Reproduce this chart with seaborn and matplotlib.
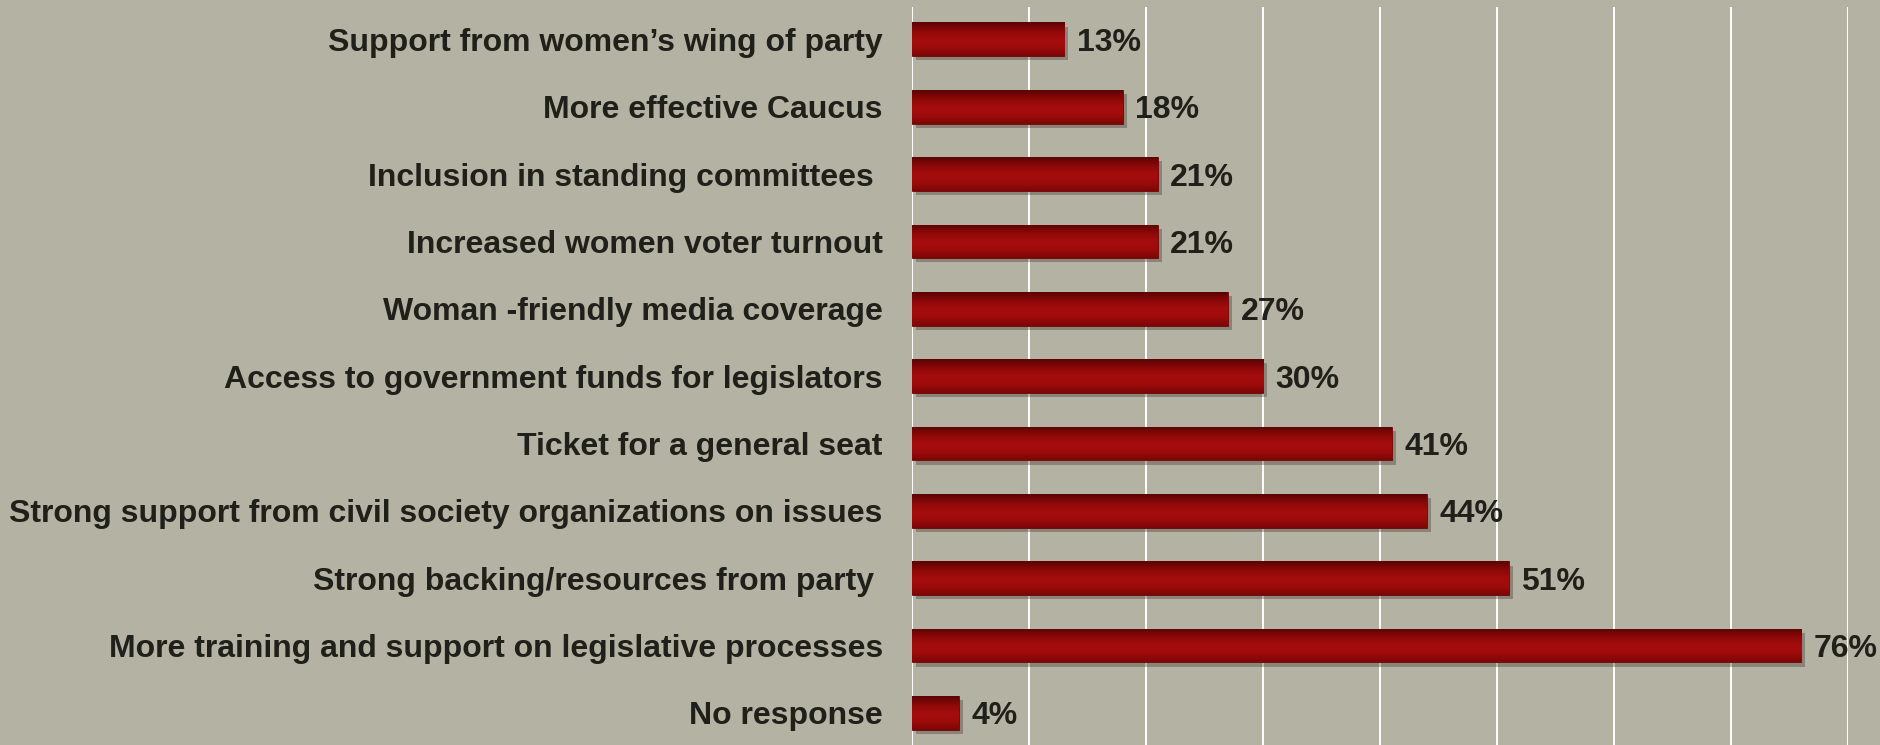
import matplotlib
matplotlib.use("Agg")
import matplotlib.pyplot as plt
import matplotlib.patheffects as pe
import seaborn as sns
import pandas as pd
import numpy as np
from matplotlib.colors import LinearSegmentedColormap

categories = [
    "Support from women\u2019s wing of party",
    "More effective Caucus",
    "Inclusion in standing committees ",
    "Increased women voter turnout",
    "Woman -friendly media coverage",
    "Access to government funds for legislators",
    "Ticket for a general seat",
    "Strong support from civil society organizations on issues",
    "Strong backing/resources from party ",
    "More training and support on legislative processes",
    "No response",
]
values = [13, 18, 21, 21, 27, 30, 41, 44, 51, 76, 4]
value_labels = [f"{v}%" for v in values]

df = pd.DataFrame({"category": categories, "value": values})

sns.set_theme(style="white")
FONT = "Liberation Sans"
plt.rcParams["font.family"] = FONT

BG = "#b4b2a3"
BAR = "#9c0a0a"
TXT = "#20201a"
FS = 23

fig = plt.figure(figsize=(18.8, 7.45), dpi=100, facecolor=BG)
ax = fig.add_axes([0.4851, -0.004, 0.983 - 0.4851, 0.9946])
ax.set_facecolor(BG)

sns.barplot(data=df, x="value", y="category", orient="h", color=BAR,
            width=0.5, edgecolor="#6e0606", linewidth=0.6, saturation=1,
            ax=ax, zorder=3)

# bar shading: vertical gradient clipped to each bar, plus soft shadow
grad_cmap = LinearSegmentedColormap.from_list(
    "barshade", ["#5a0404", "#8c0808", "#a50d0d", "#9e0b0b", "#7c0707"])
grad = np.linspace(0, 1, 64).reshape(-1, 1)
for p in list(ax.patches):
    p.set_path_effects([pe.SimplePatchShadow(offset=(3, -3), shadow_rgbFace="#3a3025", alpha=0.35),
                        pe.Normal()])
    x0, y0 = p.get_x(), p.get_y()
    w, h = p.get_width(), p.get_height()
    im = ax.imshow(grad, cmap=grad_cmap, aspect="auto",
                   extent=(x0, x0 + w, y0 + h, y0), zorder=3.5,
                   interpolation="bicubic")
    im.set_clip_path(p)
ax.set_xlim(0, 80)
ax.set_ylim(10.52, -0.48)

ax.set_xticks(range(0, 81, 10))
ax.xaxis.grid(True, color="white", linewidth=1.4, zorder=0)
ax.set_axisbelow(True)
ax.tick_params(axis="x", bottom=False, labelbottom=False)
ax.tick_params(axis="y", left=False, pad=15)
ax.set_yticks(range(len(categories)))
ax.set_yticklabels(categories, fontsize=FS, fontweight="bold",
                   color=TXT, family=FONT)
ax.set_xlabel("")
ax.set_ylabel("")
for s in ax.spines.values():
    s.set_visible(False)

for i, (v, t) in enumerate(zip(values, value_labels)):
    ax.annotate(t, xy=(v, i), xytext=(9, -2.5), textcoords="offset points",
                va="center", ha="left", fontsize=FS, fontweight="bold",
                family=FONT, color=TXT, annotation_clip=False, zorder=5)

fig.savefig("out.png", dpi=100, facecolor=BG)
